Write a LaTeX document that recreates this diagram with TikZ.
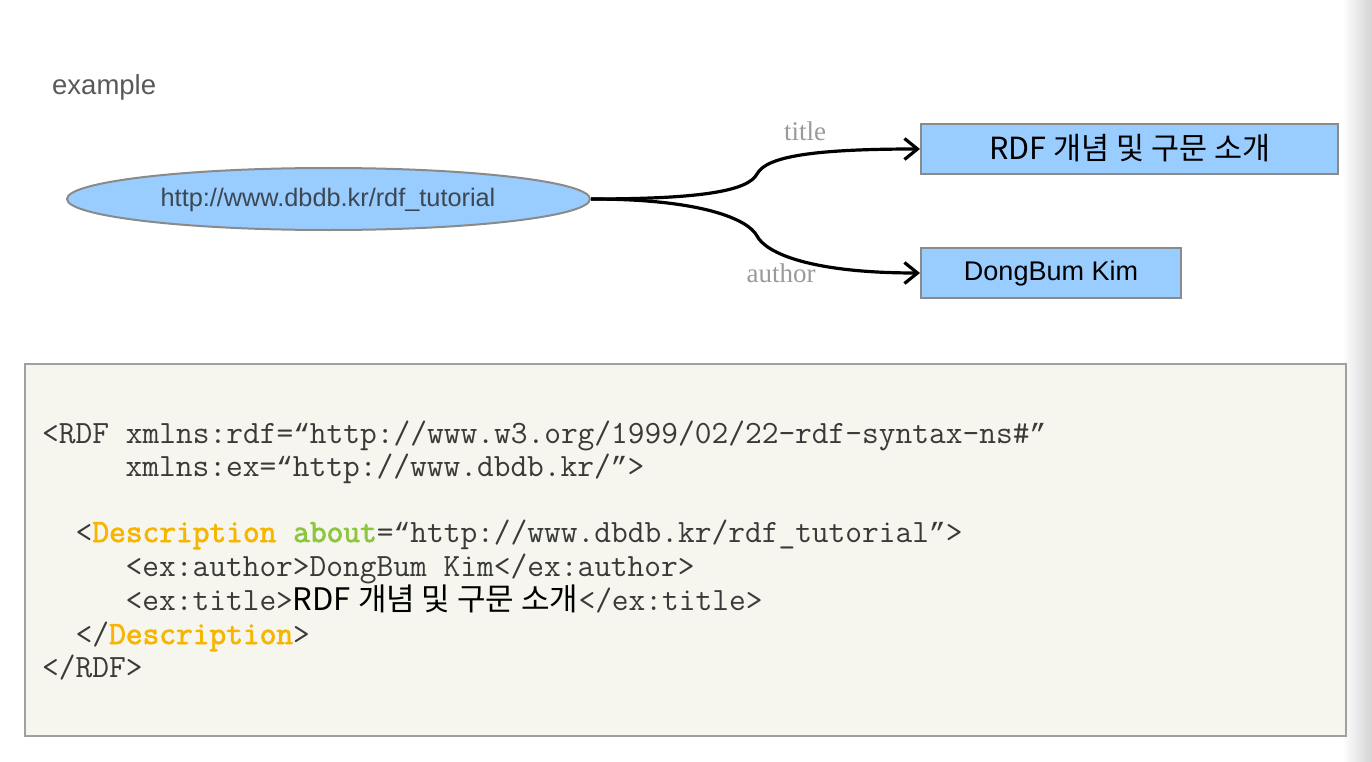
\documentclass[tikz,border=0pt]{standalone}
\usepackage{fontspec}
\setmainfont{Liberation Sans}
\newfontfamily\kr{Noto Sans CJK KR}
\newfontfamily\serifl{Liberation Serif}
\newfontfamily\codebold{Latin Modern Mono}[FakeBold=2.2]
\newfontfamily\qfont{Liberation Mono}
\usetikzlibrary{arrows.meta,shapes.geometric}
\definecolor{nodeblue}{HTML}{99CCFF}
\definecolor{nodeborder}{HTML}{8A8A8A}
\definecolor{codebg}{HTML}{F6F6EE}
\definecolor{codeborder}{HTML}{A0A0A0}
\definecolor{codetext}{HTML}{3A3A3A}
\definecolor{descol}{HTML}{F7B500}
\definecolor{aboutcol}{HTML}{8CC63F}
\definecolor{labelgray}{HTML}{9A9A9A}
\definecolor{uritext}{HTML}{3C4752}
\newcommand{\kw}[2]{{\codebold\textcolor{#1}{#2}}}
\newcommand{\cqopen}{{\qfont\fontsize{27.8}{30}\selectfont “}}
\newcommand{\cqclose}{{\qfont\fontsize{27.8}{30}\selectfont ”}}
\tikzset{
  uri/.style={ellipse, fill=nodeblue, draw=nodeborder, line width=2pt, minimum width=523pt, minimum height=62pt, inner sep=0pt},
  literal/.style={rectangle, fill=nodeblue, draw=nodeborder, line width=2pt, minimum height=50pt, inner sep=0pt},
  edge/.style={line width=3.2pt, -{Straight Barb[length=13pt,width=21pt,line width=3.2pt]}},
  elabel/.style={font=\serifl\fontsize{27}{30}\selectfont, text=labelgray, inner sep=0pt},
  code/.style={anchor=base west, inner sep=0pt, text=codetext, font=\ttfamily\fontsize{32.5}{33.7}\selectfont},
}
\begin{document}
\begin{tikzpicture}[x=1pt,y=-1pt]
\useasboundingbox (0,0) rectangle (1372,762);
\fill[white] (0,0) rectangle (1372,762);
\shade[left color=white, right color=black!17, shading angle=90] (1342,0) rectangle (1372,762);

\node[anchor=base west, inner sep=0pt, text=black!65, font=\fontsize{27.5}{30}\selectfont] (ex) at (52,95) {example};

\node[uri] (res) at (328.5,199) {};
\node[inner sep=0pt, text=uritext, font=\fontsize{25.3}{28}\selectfont] (restext) at (328,200) {http://www.dbdb.kr/rdf\_tutorial};

\node[literal, minimum width=417pt] (ttl) at (1129.5,149) {};
\node[inner sep=0pt, font=\kr\fontsize{30.5}{32}\selectfont] (ttltext) at (1130,148) {RDF 개념 및 구문 소개};
\node[literal, minimum width=260pt] (aut) at (1051,273) {};
\node[inner sep=0pt, font=\fontsize{27}{30}\selectfont] (auttext) at (1051,274) {DongBum Kim};

\coordinate (k1) at (757,174);
\coordinate (k2) at (757,236);
\draw[edge] (res.east) .. controls +(110,0) and +(-9,17) .. (k1) .. controls +(9,-17) and +(-110,0) .. (ttl.west);
\draw[edge] (res.east) .. controls +(110,0) and +(-9,-17) .. (k2) .. controls +(9,17) and +(-110,0) .. (aut.west);
\node[elabel] (lt) at (805,131) {title};
\node[elabel] (la) at (781,273) {author};

\node[rectangle, fill=codebg, draw=codeborder, line width=1.5pt, minimum width=1321pt, minimum height=372pt, inner sep=0pt] (codebox) at (685.5,550) {};

\node[code] (c1) at (42,443) {<RDF xmlns:rdf=\cqopen http://www.w3.org/1999/02/22-rdf-syntax-ns\#\cqclose};
\node[code] (c2) at (125.4,476.5) {xmlns:ex=\cqopen http://www.dbdb.kr/\cqclose>};
\node[code] (c4) at (75.4,542) {<\kw{descol}{Description} \kw{aboutcol}{about}=\cqopen http://www.dbdb.kr/rdf\_tutorial\cqclose>};
\node[code] (c5) at (125.4,576) {<ex:author>DongBum Kim</ex:author>};
\node[code] (c6) at (125.4,610) {<ex:title>{\kr\color{black}\fontsize{31}{32}\selectfont RDF 개념 및 구문 소개}</ex:title>};
\node[code] (c7) at (75.4,644) {</\kw{descol}{Description}>};
\node[code] (c8) at (42,677) {</RDF>};
\end{tikzpicture}
\end{document}
